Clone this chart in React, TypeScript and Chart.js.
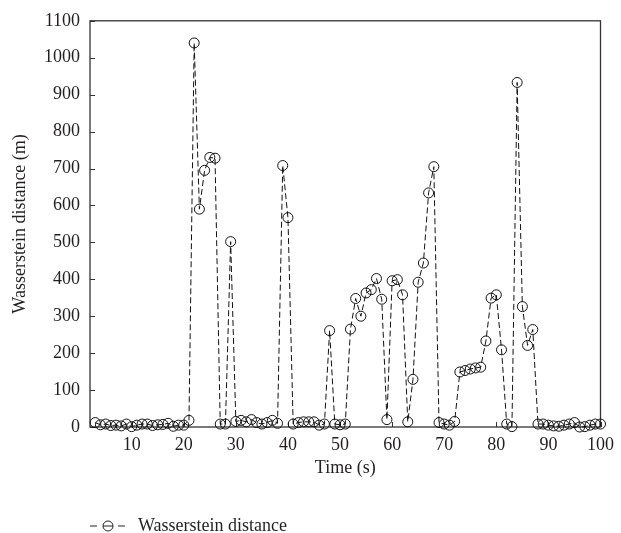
import React, { useEffect, useRef } from "react";
import { Chart, registerables } from "chart.js";

Chart.register(...registerables);

const times = [
  3, 4, 5, 6, 7, 8, 9, 10, 11, 12, 13, 14, 15, 16, 17, 18, 19, 20, 21,
  22, 23, 24, 25, 26, 27, 28, 29,
  30, 31, 32, 33, 34, 35, 36, 37, 38,
  39, 40,
  41, 42, 43, 44, 45, 46, 47,
  48, 49, 50, 51,
  52, 53, 54, 55, 56, 57, 58, 59,
  60, 61, 62, 63, 64, 65, 66, 67, 68,
  69, 70, 71, 72,
  73, 74, 75, 76, 77, 78, 79, 80, 81, 82, 83, 84, 85, 86, 87,
  88, 89, 90, 91, 92, 93, 94, 95, 96, 97, 98, 99, 100,
];

const wasserstein = [
  12, 6, 8, 4, 5, 3, 8, 1, 5, 8, 8, 4, 6, 7, 10, 2, 5, 5, 18,
  1040, 590, 695, 730, 728, 8, 8, 502,
  15, 18, 14, 20, 12, 8, 12, 18, 10,
  708, 567,
  8, 12, 14, 14, 14, 5, 8,
  261, 8, 6, 8,
  265, 348, 300, 363, 372, 402, 346, 20,
  396, 399, 358, 14, 129, 392, 444, 634, 705,
  12, 8, 5, 15,
  149, 153, 157, 160, 162, 233, 349, 358, 209, 8, 1, 933, 326, 221, 264,
  8, 8, 5, 3, 2, 5, 8, 12, 0, 1, 5, 8, 8,
];

const xTickValues = [10, 20, 30, 40, 50, 60, 70, 80, 90, 100];
const yTickValues = [0, 100, 200, 300, 400, 500, 600, 700, 800, 900, 1000, 1100];

const seriesLabel = "Wasserstein distance";
const xTitle = "Time (s)";
const yTitle = "Wasserstein distance (m)";

const FONT = "'Liberation Serif', 'Times New Roman', serif";
const INK = "#231f20";

const framePlugin = {
  id: "frameTicks",
  beforeDatasetsDraw(chart: any) {
    const { ctx, chartArea, scales } = chart;
    const { left, right, top, bottom } = chartArea;
    ctx.save();
    ctx.strokeStyle = "#333";
    ctx.lineWidth = 1.3;
    ctx.strokeRect(left, top, right - left, bottom - top);
    ctx.lineWidth = 1;
    scales.y.ticks.forEach((t: any) => {
      const py = Math.round(scales.y.getPixelForValue(t.value)) + 0.5;
      ctx.beginPath();
      ctx.moveTo(left, py);
      ctx.lineTo(left + 5, py);
      ctx.stroke();
    });
    scales.x.ticks.forEach((t: any) => {
      const px = Math.round(scales.x.getPixelForValue(t.value)) + 0.5;
      ctx.beginPath();
      ctx.moveTo(px, bottom);
      ctx.lineTo(px, bottom - 5);
      ctx.stroke();
    });
    ctx.restore();
  },
  afterDraw(chart: any) {
    const { ctx } = chart;
    const yc = 526;
    ctx.save();
    ctx.strokeStyle = "#222";
    ctx.lineWidth = 1;
    ctx.beginPath();
    ctx.moveTo(90, yc);
    ctx.lineTo(97, yc);
    ctx.moveTo(118, yc);
    ctx.lineTo(125, yc);
    ctx.moveTo(103, yc);
    ctx.lineTo(113, yc);
    ctx.stroke();
    ctx.beginPath();
    ctx.arc(108, yc, 5, 0, Math.PI * 2);
    ctx.stroke();
    ctx.fillStyle = INK;
    ctx.font = `18px ${FONT}`;
    ctx.textBaseline = "alphabetic";
    ctx.textAlign = "left";
    ctx.fillText(seriesLabel, 138, 531);
    ctx.restore();
  },
};

export default function App() {
  const canvasRef = useRef<HTMLCanvasElement | null>(null);

  useEffect(() => {
    if (!canvasRef.current) return;
    const chart = new Chart(canvasRef.current, {
      type: "line",
      data: {
        datasets: [
          {
            label: seriesLabel,
            data: times.map((t, i) => ({ x: t, y: wasserstein[i] })),
            borderColor: "#111",
            borderWidth: 1,
            borderDash: [6, 3],
            pointStyle: "circle",
            pointRadius: 5,
            pointBorderWidth: 1,
            pointBorderColor: "#111",
            pointBackgroundColor: "rgba(0,0,0,0)",
            fill: false,
            tension: 0,
            clip: false as any,
          },
        ],
      },
      options: {
        animation: false,
        responsive: false,
        maintainAspectRatio: false,
        layout: { padding: { top: 20, right: 16, bottom: 46, left: 0 } },
        plugins: {
          legend: { display: false },
          tooltip: { enabled: false },
        },
        scales: {
          x: {
            type: "linear",
            min: 2,
            max: 100,
            grid: { display: false, drawTicks: false },
            border: { display: false },
            afterBuildTicks: (scale: any) => {
              scale.ticks = xTickValues.map((v) => ({ value: v }));
            },
            afterFit: (scale: any) => {
              scale.height = 60;
            },
            ticks: {
              color: INK,
              font: { family: FONT, size: 18 },
              padding: 7,
              maxRotation: 0,
              autoSkip: false,
              callback: (v: any) => String(v),
            },
            title: {
              display: true,
              text: xTitle,
              color: INK,
              font: { family: FONT, size: 18 },
              padding: { top: 0, bottom: 8 },
            },
          },
          y: {
            type: "linear",
            min: 0,
            max: 1100,
            grid: { display: false, drawTicks: false },
            border: { display: false },
            afterBuildTicks: (scale: any) => {
              scale.ticks = yTickValues.map((v) => ({ value: v }));
            },
            afterFit: (scale: any) => {
              scale.width = 90;
            },
            ticks: {
              color: INK,
              font: { family: FONT, size: 18 },
              padding: 10,
              autoSkip: false,
              callback: (v: any) => String(v),
            },
            title: {
              display: true,
              text: yTitle,
              color: INK,
              font: { family: FONT, size: 18 },
              padding: { top: 9, bottom: 0 },
            },
          },
        },
      },
      plugins: [framePlugin],
    });
    return () => chart.destroy();
  }, []);

  return (
    <div style={{ position: "absolute", left: 0, top: 0, width: 621, height: 533, background: "#fff" }}>
      <canvas ref={canvasRef} width={621} height={533} style={{ display: "block" }} />
    </div>
  );
}
